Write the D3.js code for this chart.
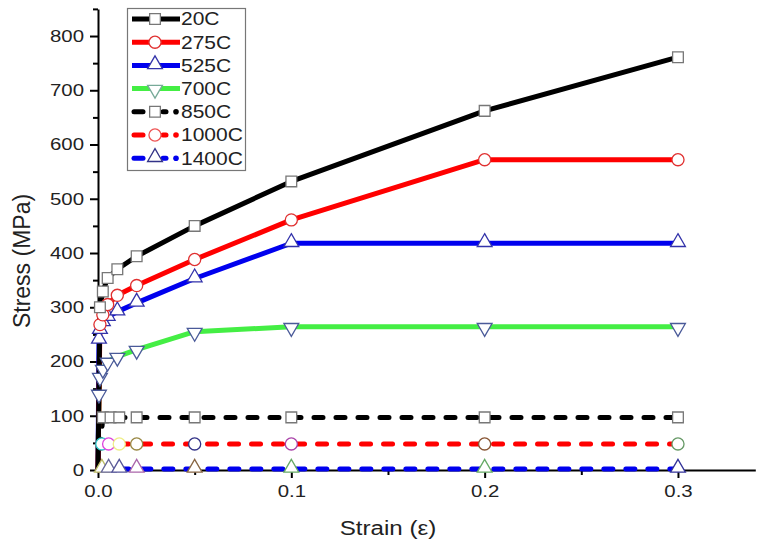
<!DOCTYPE html>
<html>
<head>
<meta charset="utf-8">
<script src="https://cdn.jsdelivr.net/npm/d3@7"></script>
<style>
  body { margin: 0; background: #fff; }
  svg { font-family: "Liberation Sans", Arial, sans-serif; }
</style>
</head>
<body>
<div class="chart"></div>
<script>

// series labels, in legend order
var labels = ["20C", "275C", "525C", "700C", "850C", "1000C", "1400C"];

// strain / stress pairs
var s20   = [[0,0],[0.001,300],[0.0025,329],[0.005,354],[0.01,370],[0.02,394],[0.05,450],[0.1,532],[0.2,662],[0.3,761]];
var s275  = [[0,0],[0.001,268],[0.0025,286],[0.005,305],[0.01,322],[0.02,340],[0.05,388],[0.1,461],[0.2,572],[0.3,572]];
var s525  = [[0,0],[0.0005,240],[0.001,258],[0.0025,272],[0.005,282],[0.01,292],[0.02,308],[0.05,353],[0.1,418],[0.2,418],[0.3,418]];
var s700  = [[0,0],[0.0005,141],[0.001,172],[0.0025,187],[0.005,200],[0.01,209],[0.02,222],[0.05,255],[0.1,264],[0.2,264],[0.3,264]];
var s850  = [[0,0],[0.0025,97],[0.0065,97],[0.011,97],[0.02,97],[0.05,97],[0.1,97],[0.2,97],[0.3,97]];
var s1000 = [[0,0],[0.002,48],[0.0055,48],[0.011,48],[0.02,48],[0.05,48],[0.1,48],[0.2,48],[0.3,48]];
var s1400 = [[0,0],[0.002,2],[0.0055,2],[0.011,2],[0.02,2],[0.05,2],[0.1,2],[0.2,2],[0.3,2]];

var xTicks = [0, 0.1, 0.2, 0.3];
var yTicks = [0, 100, 200, 300, 400, 500, 600, 700, 800];

var series = [
  {name: labels[0], data: s20,   color: "#000000", dash: false, sym: "square",   edge: "#777"},
  {name: labels[1], data: s275,  color: "#ff0000", dash: false, sym: "circle",   edge: "#e03030"},
  {name: labels[2], data: s525,  color: "#0000ee", dash: false, sym: "triangle", edge: "#3333aa"},
  {name: labels[3], data: s700,  color: "#44ee44", dash: false, sym: "triangle-down", edge: "#4a5a99"},
  {name: labels[4], data: s850,  color: "#000000", dash: true,  sym: "square",   edge: "#777"},
  {name: labels[5], data: s1000, color: "#ff0000", dash: true,  sym: "circle",   edge: "#884466",
    pointEdge: ["#fff","#33cccc","#dd44dd","#eeee88","#998844","#333388","#aa44aa","#885533","#669966"]},
  {name: labels[6], data: s1400, color: "#0000ee", dash: true,  sym: "triangle", edge: "#333388",
    pointEdge: ["#fff","#bbbb66","#666699","#555599","#aa66aa","#886644","#66aa66","#66aa66","#333399"]}
];

var width = 760, height = 544;
var stretch = 1.2; // the source text looks wide

var svg = d3.select(".chart")
  .append("svg")
    .attr("width", width)
    .attr("height", height);

svg.append("rect")
  .attr("width", width)
  .attr("height", height)
  .attr("fill", "#fff");

var x = d3.scaleLinear().domain([0, 0.34]).range([98, 755.3]);
var y = d3.scaleLinear().domain([0, 850]).range([470, 8.9]);

// ---- AXES ----
var xAxis = svg.append("g")
  .attr("transform", "translate(0," + y(0) + ")")
  .call(d3.axisBottom(x).tickValues(xTicks).tickFormat(d3.format(".1f")).tickSize(8).tickSizeOuter(0));

svg.append("g")
  .attr("transform", "translate(0," + y(0) + ")")
  .call(d3.axisBottom(x).tickValues([0.05, 0.15, 0.25]).tickFormat("").tickSize(5).tickSizeOuter(0))
  .select(".domain").remove();

var yAxis = svg.append("g")
  .attr("transform", "translate(" + x(0) + ",0)")
  .call(d3.axisLeft(y).tickValues(yTicks).tickSize(8).tickSizeOuter(0));

svg.append("g")
  .attr("transform", "translate(" + x(0) + ",0)")
  .call(d3.axisLeft(y).tickValues([50, 150, 250, 350, 450, 550, 650, 750, 850]).tickFormat("").tickSize(5).tickSizeOuter(0))
  .select(".domain").remove();

svg.selectAll(".domain").attr("stroke-width", 2).attr("stroke", "#000");
svg.selectAll(".tick line").attr("stroke-width", 2).attr("stroke", "#000");

xAxis.selectAll("text")
  .attr("y", 10)
  .attr("dy", "1em")
  .attr("transform", "scale(" + stretch + ",1)")
  .style("font-size", "17px")
  .attr("fill", "#222");

yAxis.selectAll("text")
  .attr("x", -14 / stretch)
  .attr("transform", "scale(" + stretch + ",1)")
  .style("font-size", "17px")
  .attr("fill", "#222");

svg.append("text")
  .attr("transform", "translate(388,535) scale(1.15,1)")
  .attr("text-anchor", "middle")
  .style("font-size", "21px")
  .attr("fill", "#222")
  .text("Strain (ε)");

svg.append("text")
  .attr("transform", "translate(30,261) rotate(-90)")
  .attr("text-anchor", "middle")
  .style("font-size", "23px")
  .attr("fill", "#222")
  .text("Stress (MPa)");

// ---- LINES ----
var line = d3.line()
  .x(function(d) { return x(d[0]); })
  .y(function(d) { return y(d[1]); });

// draw dashed (lower) ones first
var order = series.slice().reverse();

svg.selectAll(".series-line")
  .data(order)
  .enter().append("path")
    .attr("class", "series-line")
    .attr("d", function(d) { return line(d.data); })
    .attr("fill", "none")
    .attr("stroke", function(d) { return d.color; })
    .attr("stroke-width", 5)
    .attr("stroke-linecap", function(d) { return d.dash ? "round" : "butt"; })
    .attr("stroke-linejoin", "round")
    .attr("stroke-dasharray", function(d) { return d.dash ? "9,13" : null; });

function symbolPath(sym, size) {
  var t = {
    "square": d3.symbolSquare,
    "circle": d3.symbolCircle,
    "triangle": d3.symbolTriangle,
    "triangle-down": d3.symbolTriangle
  }[sym];
  return d3.symbol().type(t).size(size)();
}

function symSize(sym) {
  if (sym === "square") return 115;
  if (sym === "circle") return 115;
  return 95;
}

// ---- MARKERS ----
order.forEach(function(s) {
  var pts = s.data.map(function(d, i) { return {p: d, i: i}; }).filter(function(d) { return d.p[0] > 0; });
  svg.selectAll(null)
    .data(pts)
    .enter().append("path")
      .attr("d", symbolPath(s.sym, symSize(s.sym)))
      .attr("transform", function(d) {
        var r = s.sym === "triangle-down" ? " rotate(180)" : "";
        var dy = s.sym === "triangle" ? -1 : (s.sym === "triangle-down" ? 1 : 0);
        return "translate(" + x(d.p[0]) + "," + (y(d.p[1]) + dy) + ")" + r;
      })
      .attr("fill", "#fff")
      .attr("stroke", function(d) { return s.pointEdge ? s.pointEdge[d.i] : s.edge; })
      .attr("stroke-width", 1.3);
});

// ---- LEGEND ----
var legend = svg.append("g");

legend.append("rect")
  .attr("x", 127.5)
  .attr("y", 8.5)
  .attr("width", 118)
  .attr("height", 162)
  .attr("fill", "#fff")
  .attr("stroke", "#777")
  .attr("stroke-width", 1.2);

series.forEach(function(s, i) {
  var ly = 19 + i * 23.2;
  var g = legend.append("g");
  if (s.dash) {
    g.append("line")
      .attr("x1", 134).attr("x2", 143).attr("y1", ly).attr("y2", ly)
      .attr("stroke", s.color).attr("stroke-width", 5).attr("stroke-linecap", "round");
    g.append("line")
      .attr("x1", 163).attr("x2", 166).attr("y1", ly).attr("y2", ly)
      .attr("stroke", s.color).attr("stroke-width", 5).attr("stroke-linecap", "round");
    g.append("circle")
      .attr("cx", 176).attr("cy", ly).attr("r", 2.8)
      .attr("fill", s.color);
  } else {
    g.append("line")
      .attr("x1", 132).attr("x2", 180).attr("y1", ly).attr("y2", ly)
      .attr("stroke", s.color).attr("stroke-width", 5);
  }
  var dy = s.sym === "triangle" ? -1 : (s.sym === "triangle-down" ? 1 : 0);
  g.append("path")
    .attr("d", symbolPath(s.sym, symSize(s.sym)))
    .attr("transform", "translate(155," + (ly + dy) + ")" + (s.sym === "triangle-down" ? " rotate(180)" : ""))
    .attr("fill", "#fff")
    .attr("stroke", s.sym === "triangle-down" ? "#77aa99" : (s.dash && s.sym === "circle" ? "#ee5555" : s.edge))
    .attr("stroke-width", 1.3);
  g.append("text")
    .attr("transform", "translate(181," + ly + ") scale(" + stretch + ",1)")
    .attr("dy", "0.36em")
    .style("font-size", "17.5px")
    .attr("fill", "#222")
    .text(s.name);
});

</script>
</body>
</html>
